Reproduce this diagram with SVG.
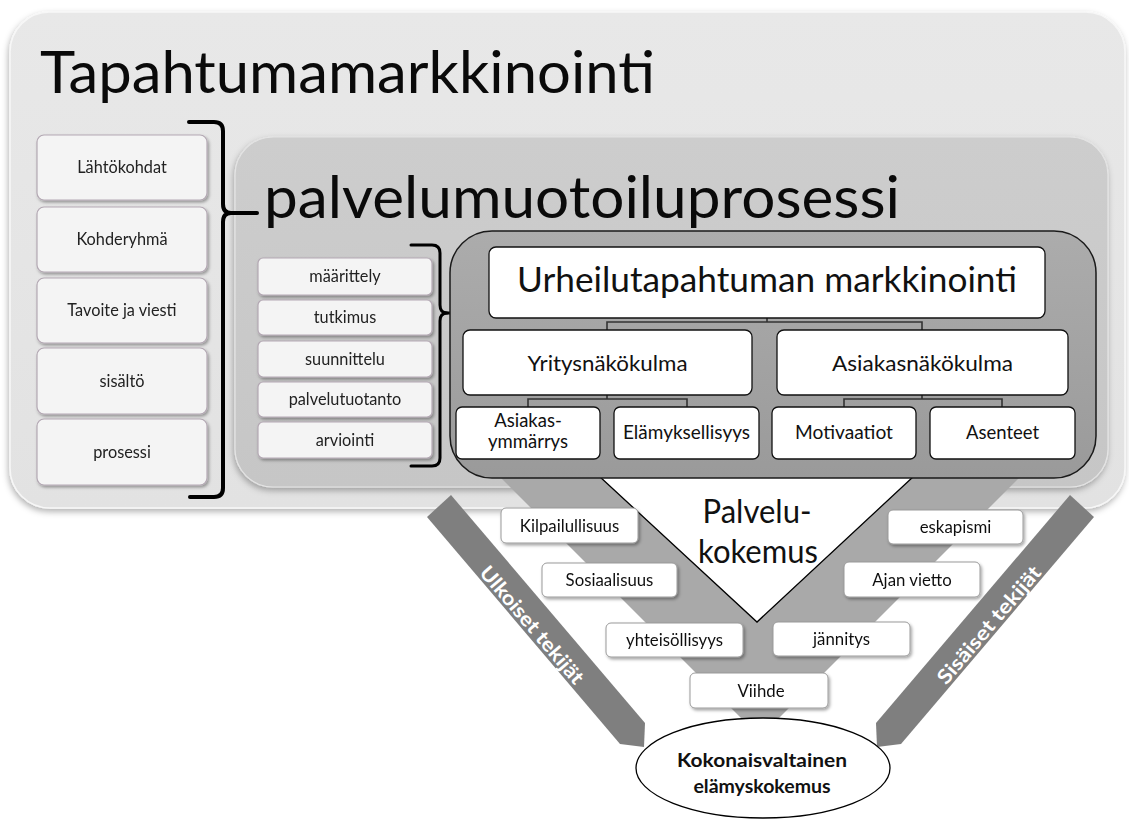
<svg xmlns="http://www.w3.org/2000/svg" width="1129" height="823" viewBox="0 0 1129 823">
  <defs>
    <filter id="panelShadow" x="-5%" y="-5%" width="110%" height="115%">
      <feDropShadow dx="-1" dy="3" stdDeviation="3" flood-color="#000" flood-opacity="0.3"/>
    </filter>
    <filter id="boxShadow" x="-10%" y="-20%" width="125%" height="150%">
      <feDropShadow dx="1.5" dy="2" stdDeviation="1.5" flood-color="#000" flood-opacity="0.35"/>
    </filter>
    <linearGradient id="outerFill" x1="0" y1="0" x2="0" y2="1">
      <stop offset="0" stop-color="#e8e8e8"/>
      <stop offset="1" stop-color="#e2e2e2"/>
    </linearGradient>
    <linearGradient id="midFill" x1="0" y1="0" x2="0" y2="1">
      <stop offset="0" stop-color="#cdcdcd"/>
      <stop offset="1" stop-color="#c6c6c6"/>
    </linearGradient>
    <linearGradient id="coreFill" x1="0" y1="0" x2="0" y2="1">
      <stop offset="0" stop-color="#acacac"/>
      <stop offset="1" stop-color="#9a9a9a"/>
    </linearGradient>
    <style>
      text { font-family: Lato, "Liberation Sans", sans-serif; fill: #111; text-anchor: middle; }
      .title { font-size: 58px; text-anchor: start; fill: #0a0a0a; }
      .sidebox { fill: #f4f4f4; stroke: #b3a8b3; stroke-width: 1.2; }
      .sidetext { font-size: 16.3px; fill: #222; }
      .orgbox { fill: #fff; stroke: #111; stroke-width: 1.3; }
      .tag { fill: #fff; stroke: #9a9a9a; stroke-width: 1; }
      .tagtext { font-size: 16.8px; fill: #111; }
      .bracket { fill: none; stroke: #000; stroke-linecap: round; stroke-linejoin: round; }
      .link { fill: none; stroke: #333; stroke-width: 1.6; }
      .arrow { fill: #7f7f7f; }
      .arrowtext { font-size: 20px; font-weight: bold; fill: #fff; }
    </style>
  </defs>

  <!-- outer panel: Tapahtumamarkkinointi -->
  <g id="panel-tapahtumamarkkinointi">
    <rect x="10" y="12" width="1115" height="496" rx="40" fill="url(#outerFill)" stroke="#f7f7f7" stroke-width="1.5" filter="url(#panelShadow)"/>
    <text class="title" x="40" y="93" textLength="615" lengthAdjust="spacingAndGlyphs">Tapahtumamarkkinointi</text>
  </g>

  <!-- left column of planning topics -->
  <g id="node-lahtokohdat" filter="url(#boxShadow)">
    <rect class="sidebox" x="37" y="135" width="170" height="65" rx="7"/>
    <text class="sidetext" x="122" y="173">Lähtökohdat</text>
  </g>
  <g id="node-kohderyhma" filter="url(#boxShadow)">
    <rect class="sidebox" x="37" y="207" width="170" height="65" rx="7"/>
    <text class="sidetext" x="122" y="245">Kohderyhmä</text>
  </g>
  <g id="node-tavoite" filter="url(#boxShadow)">
    <rect class="sidebox" x="37" y="278" width="170" height="65" rx="7"/>
    <text class="sidetext" x="122" y="316">Tavoite ja viesti</text>
  </g>
  <g id="node-sisalto" filter="url(#boxShadow)">
    <rect class="sidebox" x="37" y="348" width="170" height="66" rx="7"/>
    <text class="sidetext" x="122" y="386.5">sisältö</text>
  </g>
  <g id="node-prosessi" filter="url(#boxShadow)">
    <rect class="sidebox" x="37" y="419" width="170" height="66" rx="7"/>
    <text class="sidetext" x="122" y="457.5">prosessi</text>
  </g>

  <!-- service design panel -->
  <g id="panel-palvelumuotoiluprosessi">
    <rect x="235" y="137" width="873" height="350" rx="38" fill="url(#midFill)" stroke="#e4e4e4" stroke-width="1.2" filter="url(#panelShadow)"/>
    <text class="title" x="264" y="218" textLength="636" lengthAdjust="spacingAndGlyphs">palvelumuotoiluprosessi</text>
  </g>

  <!-- process steps -->
  <g id="node-maarittely" filter="url(#boxShadow)">
    <rect class="sidebox" x="258" y="258" width="174" height="37" rx="5"/>
    <text class="sidetext" x="345" y="282">määrittely</text>
  </g>
  <g id="node-tutkimus" filter="url(#boxShadow)">
    <rect class="sidebox" x="258" y="300" width="174" height="35" rx="5"/>
    <text class="sidetext" x="345" y="323">tutkimus</text>
  </g>
  <g id="node-suunnittelu" filter="url(#boxShadow)">
    <rect class="sidebox" x="258" y="341" width="174" height="36" rx="5"/>
    <text class="sidetext" x="345" y="364.5">suunnittelu</text>
  </g>
  <g id="node-palvelutuotanto" filter="url(#boxShadow)">
    <rect class="sidebox" x="258" y="382" width="174" height="35" rx="5"/>
    <text class="sidetext" x="345" y="405">palvelutuotanto</text>
  </g>
  <g id="node-arviointi" filter="url(#boxShadow)">
    <rect class="sidebox" x="258" y="422" width="174" height="36" rx="5"/>
    <text class="sidetext" x="345" y="445.5">arviointi</text>
  </g>

  <!-- curly brackets -->
  <g id="brackets">
    <path class="bracket" stroke-width="4" d="M189,122 H214 Q223,122 223,131 V204 Q223,213 231,213 Q223,213 223,222 V488 Q223,497 214,497 H190"/>
    <path class="bracket" stroke-width="4" d="M229,213 H257"/>
    <path class="bracket" stroke-width="3" d="M411,245 H432 Q440,245 440,253 V305 Q440,313 447,313 Q440,313 440,321 V458 Q440,466 432,466 H411"/>
    <path class="bracket" stroke-width="3" d="M445,313 H463"/>
  </g>

  <!-- experience funnel -->
  <g id="node-palvelukokemus">
    <polygon points="493,470 1027,470 760,737" fill="#a9a9a9"/>
    <polygon points="599,476 914,476 757,622" fill="#fff"/>
    <polyline points="599,476 757,622 914,476" fill="none" stroke="#000" stroke-width="1.3"/>
    <text x="757" y="523" font-size="32" textLength="109" lengthAdjust="spacingAndGlyphs">Palvelu-</text>
    <text x="758" y="563" font-size="32" textLength="120" lengthAdjust="spacingAndGlyphs">kokemus</text>
  </g>

  <!-- sports event marketing panel -->
  <g id="panel-urheilutapahtuma">
    <rect x="450" y="231" width="646" height="247" rx="42" fill="url(#coreFill)" stroke="#1a1a1a" stroke-width="1.5"/>
  </g>

  <g id="connectors">
    <path class="link" d="M767,318 V322 M607,330 V322 H922 V330"/>
    <path class="link" d="M607,395 V399 M528,407 V399 H687 V407"/>
    <path class="link" d="M922,395 V399 M844,407 V399 H1002 V407"/>
  </g>

  <g id="node-urheilutapahtuman-markkinointi">
    <rect class="orgbox" x="489" y="247" width="556" height="71" rx="7"/>
    <text x="767" y="292" font-size="34.5" textLength="500" lengthAdjust="spacingAndGlyphs">Urheilutapahtuman markkinointi</text>
  </g>
  <g id="node-yritysnakokulma">
    <rect class="orgbox" x="463" y="330" width="289" height="65" rx="7"/>
    <text x="607.5" y="370.5" font-size="22" textLength="160" lengthAdjust="spacingAndGlyphs">Yritysnäkökulma</text>
  </g>
  <g id="node-asiakasnakokulma">
    <rect class="orgbox" x="777" y="330" width="291" height="65" rx="7"/>
    <text x="922.5" y="370.5" font-size="22" textLength="181" lengthAdjust="spacingAndGlyphs">Asiakasnäkökulma</text>
  </g>
  <g id="node-asiakasymmarrys">
    <rect class="orgbox" x="456" y="407" width="144" height="52" rx="6"/>
    <text x="528" y="427" font-size="18.5">Asiakas-</text>
    <text x="528" y="448" font-size="18.5">ymmärrys</text>
  </g>
  <g id="node-elamyksellisyys">
    <rect class="orgbox" x="614" y="407" width="145" height="52" rx="6"/>
    <text x="686.5" y="439" font-size="18.5" textLength="127" lengthAdjust="spacingAndGlyphs">Elämyksellisyys</text>
  </g>
  <g id="node-motivaatiot">
    <rect class="orgbox" x="772" y="407" width="144" height="52" rx="6"/>
    <text x="844" y="439" font-size="18.5" textLength="98" lengthAdjust="spacingAndGlyphs">Motivaatiot</text>
  </g>
  <g id="node-asenteet">
    <rect class="orgbox" x="930" y="407" width="145" height="52" rx="6"/>
    <text x="1002.5" y="439" font-size="18.5">Asenteet</text>
  </g>

  <!-- factor tags along the funnel -->
  <g id="node-kilpailullisuus" filter="url(#boxShadow)">
    <rect class="tag" x="501" y="508" width="137" height="35" rx="5"/>
    <text class="tagtext" x="569.5" y="531.5">Kilpailullisuus</text>
  </g>
  <g id="node-sosiaalisuus" filter="url(#boxShadow)">
    <rect class="tag" x="542" y="563" width="135" height="34" rx="5"/>
    <text class="tagtext" x="609.5" y="586">Sosiaalisuus</text>
  </g>
  <g id="node-yhteisollisyys" filter="url(#boxShadow)">
    <rect class="tag" x="606" y="623" width="137" height="34" rx="5"/>
    <text class="tagtext" x="674.5" y="646">yhteisöllisyys</text>
  </g>
  <g id="node-viihde" filter="url(#boxShadow)">
    <rect class="tag" x="690" y="673" width="138" height="35" rx="5"/>
    <text class="tagtext" x="761" y="696.5">Viihde</text>
  </g>
  <g id="node-eskapismi" filter="url(#boxShadow)">
    <rect class="tag" x="888" y="510" width="135" height="34" rx="5"/>
    <text class="tagtext" x="955.5" y="533">eskapismi</text>
  </g>
  <g id="node-ajan-vietto" filter="url(#boxShadow)">
    <rect class="tag" x="844" y="562" width="136" height="35" rx="5"/>
    <text class="tagtext" x="912" y="585.5">Ajan vietto</text>
  </g>
  <g id="node-jannitys" filter="url(#boxShadow)">
    <rect class="tag" x="773" y="622" width="137" height="34" rx="5"/>
    <text class="tagtext" x="841.5" y="645">jännitys</text>
  </g>

  <!-- external / internal factor arrows -->
  <g id="node-ulkoiset-tekijat">
    <polygon class="arrow" points="427,517 451,495 645,723 644,747 620,744"/>
    <text class="arrowtext" transform="translate(532,625) rotate(49.5)" y="7" textLength="148" lengthAdjust="spacingAndGlyphs">Ulkoiset tekijät</text>
  </g>
  <g id="node-sisaiset-tekijat">
    <polygon class="arrow" points="1094,517 1070,495 876,723 877,747 901,744"/>
    <text class="arrowtext" transform="translate(989,625) rotate(-49.5)" y="7" textLength="148" lengthAdjust="spacingAndGlyphs">Sisäiset tekijät</text>
  </g>

  <!-- overall experience -->
  <g id="node-kokonaisvaltainen-elamyskokemus">
    <ellipse cx="763" cy="768" rx="127" ry="50" fill="#fff" stroke="#000" stroke-width="1.3"/>
    <text x="762" y="767" font-size="19.5" font-weight="bold" textLength="170" lengthAdjust="spacingAndGlyphs">Kokonaisvaltainen</text>
    <text x="762" y="793" font-size="19.5" font-weight="bold">elämyskokemus</text>
  </g>
</svg>
